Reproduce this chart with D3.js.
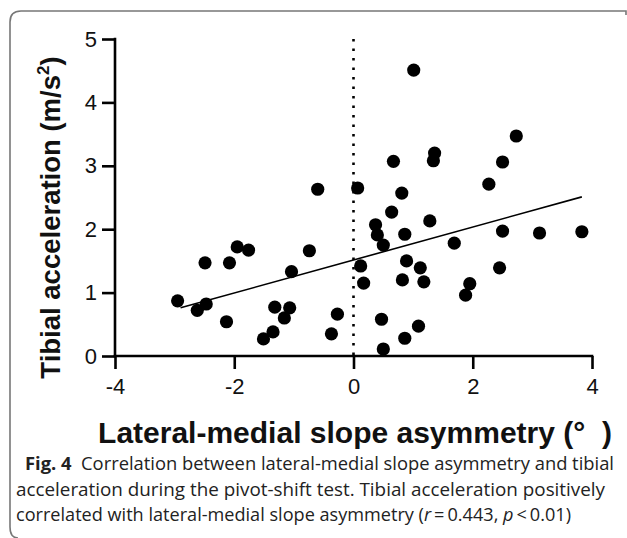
<!DOCTYPE html>
<html>
<head>
<meta charset="utf-8">
<script src="https://cdn.jsdelivr.net/npm/d3@7"></script>
<style>
  html, body { margin: 0; padding: 0; background: #fff; }
  svg { display: block; }
</style>
</head>
<body>
<svg id="chart" width="627" height="538"></svg>
<script>
// slope asymmetry (deg) and tibial acceleration (m/s^2)
const asymmetry = [
  -2.95, -2.62, -2.47, -2.49, -2.13, -2.08, -1.95, -1.76, -1.51, -1.35,
  -1.32, -1.16, -1.07, -1.04, -0.60, -0.74, -0.37, -0.27, 0.07, 0.12,
  0.17, 0.37, 0.40, 0.50, 0.47, 0.50, 0.64, 0.67, 0.81, 0.82,
  0.86, 0.89, 0.86, 1.01, 1.09, 1.12, 1.18, 1.28, 1.34, 1.36,
  1.69, 1.88, 1.95, 2.27, 2.50, 2.73, 2.50, 3.12, 3.83, 2.45
];
const acceleration = [
  0.87, 0.72, 0.82, 1.47, 0.54, 1.47, 1.72, 1.67, 0.27, 0.38,
  0.77, 0.60, 0.76, 1.33, 2.63, 1.66, 0.35, 0.66, 2.65, 1.42,
  1.15, 2.07, 1.91, 1.75, 0.58, 0.11, 2.27, 3.07, 2.57, 1.20,
  1.92, 1.50, 0.28, 4.51, 0.47, 1.39, 1.17, 2.13, 3.08, 3.20,
  1.78, 0.96, 1.14, 2.71, 3.06, 3.47, 1.97, 1.94, 1.96, 1.39
];
// fitted line end points
const fitX = [-2.9, 3.83];
const fitY = [0.76, 2.51];

const xTicks = [-4, -2, 0, 2, 4];
const yTicks = [0, 1, 2, 3, 4, 5];

// caption: [text, style] pieces per line
const captionLines = [
  [["Fig. 4", "b"], ["  Correlation between lateral-medial slope asymmetry and tibial", ""]],
  [["acceleration during the pivot-shift test. Tibial acceleration positively", ""]],
  [["correlated with lateral-medial slope asymmetry (", ""], ["r", "i"], ["\u2009=\u20090.443, ", ""],
   ["p", "i"], ["\u2009<\u20090.01)", ""]]
];
const captionX = [25, 16, 16];
const captionEnd = [614, 605, 571];

const svg = d3.select('#chart');

const x = d3.scaleLinear().domain([-4, 4]).range([115, 592]);
const y = d3.scaleLinear().domain([0, 5]).range([356, 39]);

// frame around figure
svg.append('path')
  .attr('d', 'M626,15 L626,11 L21,11 Q10,11 10,22 L10,527 Q10,538 18,538')
  .attr('fill', 'none')
  .attr('stroke', '#777')
  .attr('stroke-width', 1.6);

// dotted zero line
svg.append('line')
  .attr('x1', x(0)).attr('x2', x(0))
  .attr('y1', y(5)).attr('y2', y(0))
  .attr('stroke', '#000')
  .attr('stroke-width', 2.6)
  .attr('stroke-dasharray', '2.4 7.1');

// axes
const xAxis = svg.append('g')
  .attr('transform', `translate(0,${y(0)})`)
  .call(d3.axisBottom(x).tickValues(xTicks).tickSize(13).tickPadding(9).tickFormat(d3.format('d')));
const yAxis = svg.append('g')
  .attr('transform', `translate(${x(-4)},0)`)
  .call(d3.axisLeft(y).tickValues(yTicks).tickSize(13).tickPadding(5).tickFormat(d3.format('d')));

[xAxis, yAxis].forEach(g => {
  g.select('.domain').attr('stroke-width', 2.6);
  g.selectAll('.tick line').attr('stroke-width', 2.6);
  g.selectAll('.tick text')
    .attr('font-family', '"Liberation Sans", Arial, sans-serif')
    .attr('font-size', 22)
    .attr('fill', '#111');
});
xAxis.select('.domain').attr('d', `M${x(-4)},0H${x(4)}`).attr('stroke-linecap', 'square');
yAxis.select('.domain').attr('d', `M0,${y(5)}V${y(0)}`).attr('stroke-linecap', 'square');
xAxis.selectAll('.tick text').text(d => d < 0 ? '-' + Math.abs(d) : d);

// regression line
svg.append('line')
  .attr('x1', x(fitX[0])).attr('y1', y(fitY[0]))
  .attr('x2', x(fitX[1])).attr('y2', y(fitY[1]))
  .attr('stroke', '#000')
  .attr('stroke-width', 1.6);

// points
svg.append('g')
  .selectAll('circle')
  .data(d3.range(asymmetry.length))
  .join('circle')
  .attr('cx', i => x(asymmetry[i]))
  .attr('cy', i => y(acceleration[i]))
  .attr('r', 6.6)
  .attr('fill', '#000');

// axis titles
const yTitle = svg.append('text')
  .attr('transform', `translate(60,${(y(5) + y(0)) / 2 + 20}) rotate(-90)`)
  .attr('text-anchor', 'middle')
  .attr('font-family', '"Liberation Sans", Arial, sans-serif')
  .attr('font-weight', 'bold')
  .attr('font-size', 27.5)
  .attr('fill', '#111');
yTitle.append('tspan').text('Tibial acceleration (m/s');
yTitle.append('tspan').attr('font-size', 17).attr('dy', -11).text('2');
yTitle.append('tspan').attr('dy', 11).text(')');

svg.append('text')
  .attr('x', 355)
  .attr('y', 443)
  .attr('text-anchor', 'middle')
  .attr('font-family', '"Liberation Sans", Arial, sans-serif')
  .attr('font-weight', 'bold')
  .attr('font-size', 30)
  .attr('fill', '#111')
  .style('white-space', 'pre')
  .text('Lateral-medial slope asymmetry (°  )');

// caption
const cap = svg.append('g')
  .attr('font-family', '"Open Sans", "Noto Sans", sans-serif')
  .attr('font-size', 17.5)
  .attr('fill', '#222');
captionLines.forEach((ln, i) => {
  const t = cap.append('text')
    .attr('x', captionX[i])
    .attr('y', 470 + i * 25.5)
    .attr('textLength', captionEnd[i] - captionX[i])
    .attr('lengthAdjust', 'spacingAndGlyphs')
    .style('white-space', 'pre');
  ln.forEach(([s, st]) => {
    const sp = t.append('tspan').text(s);
    if (st === 'b') sp.attr('font-weight', 'bold');
    if (st === 'i') sp.attr('font-style', 'italic');
  });
});
</script>
</body>
</html>
